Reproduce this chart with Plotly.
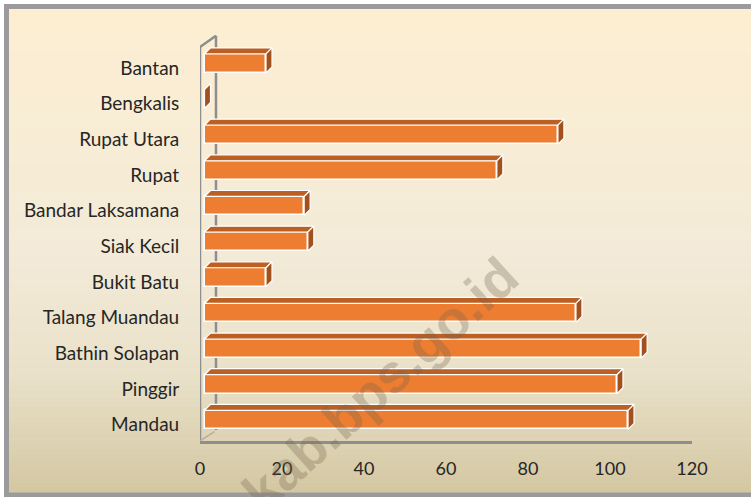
import plotly.graph_objects as go

# ---------------- data (bottom -> top) ----------------
categories = ["Mandau", "Pinggir", "Bathin Solapan", "Talang Muandau", "Bukit Batu",
              "Siak Kecil", "Bandar Laksamana", "Rupat", "Rupat Utara", "Bengkalis", "Bantan"]
values = [103.3, 100.6, 106.5, 90.6, 15.0, 25.2, 24.3, 71.3, 86.2, 0.0, 15.0]
x_ticks = [0, 20, 40, 60, 80, 100, 120]
watermark = "kab.bps.go.id"

# ---------------- style / geometry constants ----------------
W, H = 751, 497
ML, MR, MT, MB = 200, 59, 35, 56
PW, PH = W - ML - MR, H - MT - MB
XR = [0, 120]
YR = [-0.463, 10.926]
FRONT_OFF = 1.1      # front face starts slightly right of the axis origin
BAR_SHIFT = 0.13     # front face center offset from category tick
BAR_W = 0.533
DX, DY = 1.46, 0.168  # bar depth (x units, category units)
WDX, WDY = 3.9, 0.31  # wall depth
FRONT_C = "#ED7D31"
TOP_C = "#BC5F23"
SIDE_C = "#A3511C"
AX_C = "#8E8E8E"
BORDER_C = "#9B9B9D"
FONT = "Lato"

idx = list(range(len(categories)))

fig = go.Figure()

# front faces
fig.add_trace(go.Bar(
    y=[i + BAR_SHIFT for i in idx], x=values, base=FRONT_OFF, orientation="h",
    width=BAR_W, marker=dict(color=FRONT_C, line=dict(color="white", width=1.5)),
    hoverinfo="skip", showlegend=False))

# top and side faces computed from the values
tx, ty, sx, sy = [], [], [], []
for i, v in zip(idx, values):
    yc = i + BAR_SHIFT
    yt, yb = yc + BAR_W / 2, yc - BAR_W / 2
    x0, x1 = FRONT_OFF, FRONT_OFF + v
    if v > 0:
        tx += [x0, x1, x1 + DX, x0 + DX, x0, None]
        ty += [yt, yt, yt + DY, yt + DY, yt, None]
    sx += [x1, x1 + DX, x1 + DX, x1, x1, None]
    sy += [yb, yb + DY, yt + DY, yt, yb, None]

fig.add_trace(go.Scatter(x=tx, y=ty, mode="lines", fill="toself", fillcolor=TOP_C,
                         line=dict(color="white", width=1.2), hoverinfo="skip",
                         showlegend=False))
fig.add_trace(go.Scatter(x=sx, y=sy, mode="lines", fill="toself", fillcolor=SIDE_C,
                         line=dict(color="white", width=1.2), hoverinfo="skip",
                         showlegend=False))


def px_to_paper_x(px):
    return (px - ML) / PW


def px_to_paper_y(py):
    return (H - MB - py) / PH


shapes = []
# gradient background bands
stops = [(0.0, (253, 238, 210)), (0.5, (243, 235, 216)), (0.75, (233, 225, 201)),
         (1.0, (212, 199, 162))]


def grad(t):
    for (t0, c0), (t1, c1) in zip(stops[:-1], stops[1:]):
        if t <= t1:
            f = (t - t0) / (t1 - t0)
            return tuple(round(a + (b - a) * f) for a, b in zip(c0, c1))
    return stops[-1][1]


top_px, bot_px = 9, 493
N = 90
for k in range(N):
    y0 = top_px + (bot_px - top_px) * k / N
    y1 = top_px + (bot_px - top_px) * (k + 1) / N + 0.6
    c = grad((k + 0.5) / N)
    shapes.append(dict(type="rect", xref="paper", yref="paper", layer="below",
                       x0=px_to_paper_x(9), x1=px_to_paper_x(W + 20),
                       y0=px_to_paper_y(min(y1, bot_px)), y1=px_to_paper_y(y0),
                       line=dict(width=0), fillcolor="rgb(%d,%d,%d)" % c))
# outer border: top, left, bottom edges
for (ax0, ay0, ax1, ay1) in [(4, 6.5, W + 20, 6.5), (6.5, 4, 6.5, 497),
                             (4, 495, W + 20, 495)]:
    shapes.append(dict(type="line", xref="paper", yref="paper", layer="below",
                       x0=px_to_paper_x(ax0), y0=px_to_paper_y(ay0),
                       x1=px_to_paper_x(ax1), y1=px_to_paper_y(ay1),
                       line=dict(color=BORDER_C, width=5)))
# 3D axis frame
y_front_top = 10.589
shapes += [
    dict(type="line", xref="x", yref="y", layer="below", x0=0, x1=0,
         y0=YR[0], y1=y_front_top, line=dict(color=AX_C, width=2.5)),
    dict(type="line", xref="x", yref="y", layer="below", x0=0, x1=WDX,
         y0=y_front_top, y1=YR[1] - 0.02, line=dict(color=AX_C, width=2.5)),
    dict(type="line", xref="x", yref="y", layer="below", x0=WDX, x1=WDX,
         y0=YR[0] + WDY, y1=YR[1] - 0.02, line=dict(color=AX_C, width=2.5)),
    dict(type="line", xref="x", yref="y", layer="below", x0=0, x1=WDX * 0.9,
         y0=YR[0], y1=YR[0] + WDY * 0.85, line=dict(color="#B5B0A0", width=1.5)),
]

fig.update_layout(
    width=W, height=H,
    margin=dict(l=ML, r=MR, t=MT, b=MB, autoexpand=False),
    paper_bgcolor="white", plot_bgcolor="rgba(0,0,0,0)",
    shapes=shapes,
    bargap=0,
    xaxis=dict(range=XR, tickvals=x_ticks, showgrid=False, zeroline=False,
               automargin=False,
               showline=True, linecolor=AX_C, linewidth=2.5,
               ticks="outside", ticklen=10, tickcolor="rgba(0,0,0,0)",
               tickfont=dict(family=FONT, size=18, color="#262626")),
    yaxis=dict(range=YR, tickvals=idx, ticktext=categories, showgrid=False,
               automargin=False,
               zeroline=False, showline=False, ticks="outside", ticklen=16,
               tickcolor="rgba(0,0,0,0)",
               tickfont=dict(family=FONT, size=19, color="#262626")),
    annotations=[dict(text="<b>%s</b>" % watermark, xref="paper", yref="paper",
                      x=px_to_paper_x(380), y=px_to_paper_y(384), showarrow=False,
                      textangle=-42, xanchor="center", yanchor="middle",
                      font=dict(family="Liberation Sans", size=54,
                                color="rgba(115,100,75,0.30)"))],
)

fig.write_html("out.html", config={"displayModeBar": False},
               post_script="document.body.style.margin='0';"
                           "document.body.style.overflow='hidden';"
                           "document.documentElement.style.overflow='hidden';")
